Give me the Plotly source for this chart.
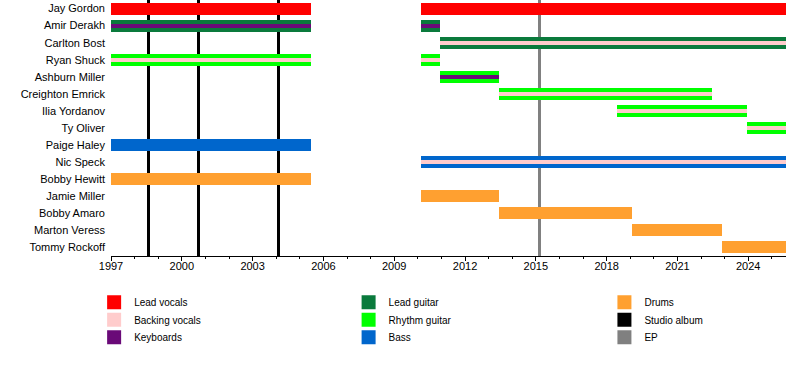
import plotly.graph_objects as go

# ---- data ----
members = ["Jay Gordon", "Amir Derakh", "Carlton Bost", "Ryan Shuck", "Ashburn Miller",
           "Creighton Emrick", "Ilia Yordanov", "Ty Oliver", "Paige Haley", "Nic Speck",
           "Bobby Hewitt", "Jamie Miller", "Bobby Amaro", "Marton Veress", "Tommy Rockoff"]

END = 2025.6
# stints: member, start, end, main role, stripe role
stint_member = ["Jay Gordon", "Jay Gordon", "Amir Derakh", "Amir Derakh", "Carlton Bost",
                "Ryan Shuck", "Ryan Shuck", "Ashburn Miller", "Creighton Emrick",
                "Ilia Yordanov", "Ty Oliver", "Paige Haley", "Nic Speck", "Bobby Hewitt",
                "Jamie Miller", "Bobby Amaro", "Marton Veress", "Tommy Rockoff"]
stint_start = [1997.0, 2010.15, 1997.0, 2010.15, 2010.92,
               1997.0, 2010.15, 2010.92, 2013.43,
               2018.42, 2023.95, 1997.0, 2010.15, 1997.0,
               2010.15, 2013.43, 2019.08, 2022.9]
stint_end = [2005.46, END, 2005.46, 2010.92, END,
             2005.46, 2010.92, 2013.43, 2022.45,
             2023.95, END, 2005.46, END, 2005.46,
             2013.43, 2019.08, 2022.9, END]
stint_main = ["Lead vocals", "Lead vocals", "Lead guitar", "Lead guitar", "Lead guitar",
              "Rhythm guitar", "Rhythm guitar", "Rhythm guitar", "Rhythm guitar",
              "Rhythm guitar", "Rhythm guitar", "Bass", "Bass", "Drums",
              "Drums", "Drums", "Drums", "Drums"]
stint_stripe = [None, None, "Keyboards", "Keyboards", "Backing vocals",
                "Backing vocals", "Backing vocals", "Keyboards", "Backing vocals",
                "Backing vocals", "Backing vocals", None, "Backing vocals", None,
                None, None, None, None]

studio_albums = [1998.58, 2000.7, 2004.08]
eps = [2015.14]

roles = ["Lead vocals", "Backing vocals", "Keyboards", "Lead guitar", "Rhythm guitar", "Bass", "Drums"]
colors = {"Lead vocals": "#FF0000", "Backing vocals": "#FFCCCC", "Keyboards": "#6A0A78",
          "Lead guitar": "#0A7A3C", "Rhythm guitar": "#00FF00", "Bass": "#0066CC",
          "Drums": "#FFA030", "Studio album": "#000000", "EP": "#808080"}

yidx = {m: i for i, m in enumerate(members)}

fig = go.Figure()

# release lines (vertical bars, behind member bars)
for name, vals in (("Studio album", studio_albums), ("EP", eps)):
    fig.add_trace(go.Bar(
        x=vals, y=[len(members)] * len(vals), base=[-0.5] * len(vals),
        width=[0.13] * len(vals), orientation="v",
        marker=dict(color=colors[name], line=dict(width=0)),
        showlegend=False, hoverinfo="skip"))

# main bars
for role in roles:
    idx = [i for i, r in enumerate(stint_main) if r == role]
    if not idx:
        continue
    fig.add_trace(go.Bar(
        y=[yidx[stint_member[i]] for i in idx],
        x=[stint_end[i] - stint_start[i] for i in idx],
        base=[stint_start[i] for i in idx],
        width=0.7, orientation="h",
        marker=dict(color=colors[role], line=dict(width=0)),
        showlegend=False, name=role))

# stripes
for role in roles:
    idx = [i for i, r in enumerate(stint_stripe) if r == role]
    if not idx:
        continue
    fig.add_trace(go.Bar(
        y=[yidx[stint_member[i]] for i in idx],
        x=[stint_end[i] - stint_start[i] for i in idx],
        base=[stint_start[i] for i in idx],
        width=0.24, orientation="h",
        marker=dict(color=colors[role], line=dict(width=0)),
        showlegend=False, name=role))

# legend entries: one legend per entry (3 columns x 3 rows)
legend_cols = [["Lead vocals", "Backing vocals", "Keyboards"],
               ["Lead guitar", "Rhythm guitar", "Bass"],
               ["Drums", "Studio album", "EP"]]
col_x = [-0.025, 0.352, 0.731]
row_y = [-0.1238, -0.1922, -0.2605]

legend_common = dict(font=dict(family="Liberation Sans, Arial", size=10, color="#000"),
                     bgcolor="rgba(0,0,0,0)", orientation="v", xanchor="left", yanchor="top",
                     itemclick=False, itemdoubleclick=False, tracegroupgap=0, itemwidth=30,
                     xref="paper", yref="paper")
k = 0
legend_layout = {}
for ci, col in enumerate(legend_cols):
    for ri, name in enumerate(col):
        k += 1
        lg = "legend" if k == 1 else f"legend{k}"
        fig.add_trace(go.Scatter(
            x=[None], y=[None], mode="markers", name=name, legend=lg,
            marker=dict(symbol="square", size=14, color=colors[name], line=dict(width=0)),
            showlegend=True))
        legend_layout[lg] = dict(x=col_x[ci], y=row_y[ri], **legend_common)
fig.update_layout(**legend_layout)

fig.update_layout(
    width=800, height=372,
    margin=dict(l=111, r=14, t=0, b=116),
    paper_bgcolor="white", plot_bgcolor="white",
    barmode="overlay", bargap=0,
    font=dict(family="Liberation Sans, Arial", size=11, color="#000"),
    xaxis=dict(range=[1997, END], tick0=1997, dtick=3, ticks="outside", ticklen=4,
               tickcolor="#000", showline=True, linecolor="#000", linewidth=1,
               showgrid=False, zeroline=False, tickfont=dict(size=11),
               ticklabelstandoff=-4,
               minor=dict(dtick=1, ticks="outside", ticklen=2, tickcolor="#000", showgrid=False)),
    yaxis=dict(range=[len(members) - 0.5, -0.5], tickmode="array",
               tickvals=list(range(len(members))), ticktext=members,
               showgrid=False, zeroline=False, showline=False, ticks="", ticklen=0,
               ticklabelstandoff=5, tickfont=dict(size=11)),
    showlegend=True,
)

fig.write_html("out.html", config={"displayModeBar": False},
               post_script="document.body.style.margin='0';")
